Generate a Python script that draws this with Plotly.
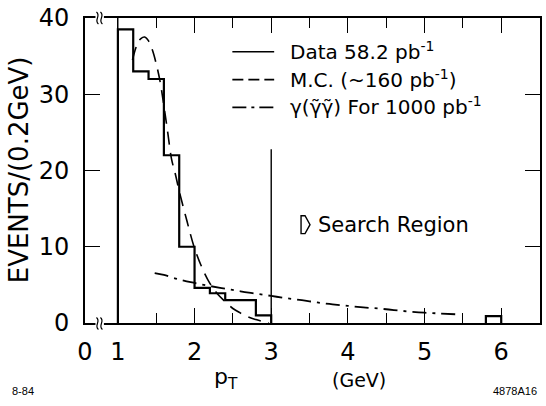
import plotly.graph_objects as go

# ---------------- data ----------------
bin_edges = [1.0, 1.2, 1.4, 1.6, 1.8, 2.0, 2.2, 2.4, 2.6, 2.8, 3.0]
data_counts = [38.5, 33, 32, 22, 10, 4.6, 3.9, 3, 3, 1]
far_edges = [5.8, 6.0]
far_counts = [0.9]

mc_pt = [1.19, 1.25, 1.3, 1.35, 1.4, 1.45, 1.5, 1.55, 1.6, 1.65, 1.7, 1.75, 1.8,
         1.9, 2.0, 2.1, 2.2, 2.3, 2.4, 2.5, 2.6, 2.7, 2.8, 2.9, 2.97]
mc_events = [34.5, 36.5, 37.3, 37.5, 37.0, 35.8, 34.0, 31.7, 28.5, 25.0, 21.5, 19.5, 17.3,
             13.4, 9.8, 7.2, 5.2, 3.8, 2.8, 1.9, 1.3, 0.8, 0.45, 0.15, 0.0]

gam_pt = [1.48, 1.6, 1.8, 2.0, 2.2, 2.4, 2.6, 2.8, 3.0, 3.2, 3.4, 3.6, 3.8, 4.0,
          4.2, 4.4, 4.6, 4.8, 5.0, 5.2, 5.4]
gam_events = [6.55, 6.3, 5.7, 5.25, 4.85, 4.5, 4.15, 3.85, 3.55, 3.25, 3.0, 2.7, 2.45, 2.25,
              2.05, 1.9, 1.7, 1.5, 1.35, 1.25, 1.15]

x_tick_vals = [0.571, 1, 2, 3, 4, 5, 6]
x_tick_text = ["0", "1", "2", "3", "4", "5", "6"]
y_tick_vals = [0, 10, 20, 30, 40]
y_tick_text = ["0", "10", "20", "30", "40"]

legend_labels = ["Data 58.2 pb<sup>-1</sup>",
                 "M.C. (~160 pb<sup>-1</sup>)",
                 "\u03b3(\u03b3\u0303\u03b3\u0303) For 1000 pb<sup>-1</sup>"]

X_RANGE = [0.571, 6.506]
Y_RANGE = [0, 40]
FONT = "DejaVu Sans"

# ---------------- geometry helpers (decoration only) ----------------
W, H = 546, 406
ML, MR, MT, MB = 85, 4, 16, 83
PW, PH = W - ML - MR, H - MT - MB


def px(xpix):
    return (xpix - ML) / PW


def py(ypix):
    return (H - MB - ypix) / PH


# histogram step path from the bins
hx = [bin_edges[0]] + bin_edges[:-1] + [bin_edges[-1]]
hy = [0] + data_counts + [0]
fx = [far_edges[0]] + far_edges[:-1] + [far_edges[-1]]
fy = [0] + far_counts + [0]
hist_x = hx + [None] + fx
hist_y = hy + [None] + fy

fig = go.Figure()
fig.add_trace(go.Scatter(x=hist_x, y=hist_y, mode="lines", line_shape="hv",
                         line=dict(color="black", width=2.2), showlegend=False,
                         connectgaps=False))
fig.add_trace(go.Scatter(x=mc_pt, y=mc_events, mode="lines", line_shape="spline",
                         line=dict(color="black", width=1.6, dash="13px,8px"),
                         showlegend=False))
fig.add_trace(go.Scatter(x=gam_pt, y=gam_events, mode="lines", line_shape="spline",
                         line=dict(color="black", width=1.8, dash="14px,6px,3px,6px"),
                         showlegend=False))

shapes = []
# vertical reference lines at pT = 1 and pT = 3
shapes.append(dict(type="line", xref="x", yref="y", x0=1, x1=1, y0=0, y1=40,
                   line=dict(color="black", width=1.2)))
shapes.append(dict(type="line", xref="x", yref="y", x0=3, x1=3, y0=0, y1=22.8,
                   line=dict(color="black", width=1.4)))

# legend samples
legend_rows = [49, 77, 105]
legend_dash = ["solid", "11px,5px", "14px,5px,3px,5px"]
for yy, dd in zip(legend_rows, legend_dash):
    shapes.append(dict(type="line", xref="paper", yref="paper",
                       x0=px(233), x1=px(275), y0=py(yy + 1), y1=py(yy + 1),
                       line=dict(color="black", width=1.6, dash=dd)))

# axis-break marks (top and bottom frame)
for yb in (16, 323.5):
    shapes.append(dict(type="rect", xref="paper", yref="paper",
                       x0=px(95.5), x1=px(104), y0=py(yb + 2.5), y1=py(yb - 2.5),
                       fillcolor="white", line=dict(width=0), layer="above"))
    for xc in (97.5, 101.5):
        path = "M{:.5f},{:.5f} C{:.5f},{:.5f} {:.5f},{:.5f} {:.5f},{:.5f}".format(
            px(xc - 1), py(yb - 6), px(xc + 4), py(yb - 2),
            px(xc - 4), py(yb + 2), px(xc + 1), py(yb + 6))
        shapes.append(dict(type="path", xref="paper", yref="paper", path=path,
                           line=dict(color="black", width=1.2), layer="above"))

# Search-region arrow symbol
arrow = "M{:.5f},{:.5f} L{:.5f},{:.5f} L{:.5f},{:.5f} L{:.5f},{:.5f} L{:.5f},{:.5f} Z".format(
    px(302), py(215), px(306), py(215), px(311), py(224), px(306), py(233), px(302), py(233))
shapes.append(dict(type="path", xref="paper", yref="paper", path=arrow,
                   line=dict(color="black", width=1.4)))

annotations = []
for yy, txt in zip(legend_rows, legend_labels):
    annotations.append(dict(xref="paper", yref="paper", x=px(289), y=py(yy),
                            text=txt, showarrow=False, xanchor="left", yanchor="middle",
                            font=dict(family=FONT, size=20, color="black")))
annotations.append(dict(xref="paper", yref="paper", x=px(317), y=py(224),
                        text="Search Region", showarrow=False, xanchor="left",
                        yanchor="middle", font=dict(family=FONT, size=21, color="black")))
# axis titles
annotations.append(dict(xref="paper", yref="paper", x=px(227), y=py(379),
                        text="p<sub>T</sub>", showarrow=False, xanchor="center",
                        yanchor="middle", font=dict(family=FONT, size=22, color="black")))
annotations.append(dict(xref="paper", yref="paper", x=px(360), y=py(380),
                        text="(GeV)", showarrow=False, xanchor="center",
                        yanchor="middle", font=dict(family=FONT, size=19, color="black")))
annotations.append(dict(xref="paper", yref="paper", x=px(19), y=py(169),
                        text="EVENTS/(0.2GeV)", showarrow=False, textangle=-90,
                        xanchor="center", yanchor="middle",
                        font=dict(family=FONT, size=26, color="black")))
# corner codes
annotations.append(dict(xref="paper", yref="paper", x=px(10), y=py(391),
                        text="8-84", showarrow=False, xanchor="left", yanchor="middle",
                        font=dict(family="Liberation Sans", size=11, color="black")))
annotations.append(dict(xref="paper", yref="paper", x=px(541), y=py(391),
                        text="4878A16", showarrow=False, xanchor="right", yanchor="middle",
                        font=dict(family="Liberation Sans", size=11, color="black")))

fig.update_layout(
    width=W, height=H,
    margin=dict(l=ML, r=MR, t=MT, b=MB, pad=0),
    paper_bgcolor="white", plot_bgcolor="white",
    showlegend=False,
    shapes=shapes, annotations=annotations,
    font=dict(family=FONT, color="black"),
)
fig.update_xaxes(range=X_RANGE, showgrid=False, zeroline=False,
                 showline=True, linecolor="black", linewidth=1.6, mirror="ticks",
                 ticks="inside", ticklen=15, tickwidth=1.2, tickcolor="black",
                 tickmode="array", tickvals=x_tick_vals, ticktext=x_tick_text,
                 tickfont=dict(family=FONT, size=24, color="black"),
                 ticklabelstandoff=6,
                 minor=dict(tickmode="array", tickvals=[1.5, 2.5, 3.5, 4.5, 5.5],
                            ticks="inside", ticklen=10, tickwidth=1.2, tickcolor="black",
                            showgrid=False))
fig.update_yaxes(range=Y_RANGE, showgrid=False, zeroline=False,
                 showline=True, linecolor="black", linewidth=1.6, mirror="ticks",
                 ticks="inside", ticklen=15, tickwidth=1.2, tickcolor="black",
                 tickmode="array", tickvals=y_tick_vals, ticktext=y_tick_text,
                 tickfont=dict(family=FONT, size=24, color="black"),
                 ticklabelstandoff=9)

fig.write_html("out.html")
